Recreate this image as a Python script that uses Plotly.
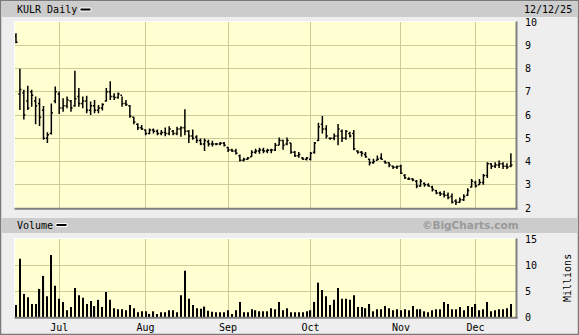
import pandas as pd
import plotly.graph_objects as go

# ---------------- data ----------------
holidays = ["2025-06-19", "2025-07-04", "2025-09-01", "2025-11-27"]
days = pd.bdate_range("2025-06-13", "2025-12-12")
days = [d for d in days if d.strftime("%Y-%m-%d") not in holidays]
dates = [d.strftime("%Y-%m-%d") for d in days]

high = [9.52, 7.99, 7.09, 7.26, 7.09, 6.80, 6.72, 6.39, 5.26, 6.50,
        7.23, 7.01, 6.72, 6.80, 6.65, 7.90, 7.16, 6.80, 6.83, 6.58,
        6.65, 6.43, 6.51, 7.16, 7.45, 6.94, 6.97, 6.80, 6.65, 6.43,
        5.93, 5.64, 5.57, 5.38, 5.42, 5.42, 5.38, 5.35, 5.46, 5.52,
        5.35, 5.49, 5.52, 6.25, 5.35, 5.38, 5.13, 4.99, 4.99, 4.94,
        4.89, 4.80, 4.84, 4.84, 4.62, 4.55, 4.55, 4.30, 4.16, 4.19,
        4.48, 4.55, 4.59, 4.59, 4.55, 4.55, 4.80, 5.03, 4.94, 5.03,
        4.80, 4.45, 4.41, 4.19, 4.19, 4.41, 4.84, 5.67, 5.96, 5.56,
        5.03, 5.20, 5.61, 5.38, 5.35, 5.28, 5.35, 4.48, 4.45, 4.41,
        4.12, 4.12, 4.26, 4.36, 4.04, 3.97, 3.83, 3.83, 3.86, 3.46,
        3.32, 3.29, 3.20, 3.25, 3.10, 3.06, 2.96, 2.77, 2.71, 2.74,
        2.67, 2.62, 2.38, 2.45, 2.59, 2.85, 3.25, 3.17, 3.25, 3.46,
        3.97, 3.93, 3.97, 4.04, 3.97, 3.93, 4.36]
low = [9.09, 6.22, 5.81, 6.22, 6.35, 5.60, 5.53, 4.94, 4.80, 5.16,
       6.51, 6.04, 6.14, 6.29, 6.14, 6.36, 6.36, 6.29, 6.07, 6.00,
       6.07, 6.07, 6.19, 6.58, 6.65, 6.65, 6.70, 6.36, 6.39, 5.88,
       5.60, 5.35, 5.35, 5.13, 5.17, 5.20, 5.13, 5.13, 5.09, 5.13,
       5.13, 5.13, 5.06, 5.13, 4.80, 4.94, 4.80, 4.70, 4.45, 4.65,
       4.65, 4.70, 4.70, 4.65, 4.41, 4.41, 4.30, 4.00, 4.00, 4.07,
       4.20, 4.33, 4.33, 4.36, 4.36, 4.36, 4.45, 4.70, 4.51, 4.70,
       4.33, 4.19, 4.16, 4.07, 4.04, 4.04, 4.33, 4.88, 5.20, 4.99,
       4.94, 4.91, 4.70, 4.84, 4.94, 5.03, 4.48, 4.33, 4.22, 4.16,
       3.83, 3.90, 4.04, 4.07, 3.90, 3.75, 3.68, 3.68, 3.46, 3.25,
       3.20, 3.15, 2.85, 2.91, 2.91, 2.91, 2.71, 2.59, 2.52, 2.45,
       2.38, 2.19, 2.13, 2.23, 2.30, 2.52, 2.88, 2.88, 3.00, 3.00,
       3.29, 3.68, 3.72, 3.72, 3.68, 3.68, 3.75]
open_ = [9.40, 6.90, 6.95, 6.60, 7.00, 6.60, 6.50, 6.20, 5.00, 5.20,
         6.60, 6.90, 6.30, 6.40, 6.60, 6.40, 6.80, 6.50, 6.60, 6.20,
         6.40, 6.20, 6.30, 6.60, 7.00, 6.80, 6.75, 6.85, 6.50, 6.40,
         5.90, 5.60, 5.45, 5.35, 5.20, 5.35, 5.30, 5.20, 5.25, 5.20,
         5.30, 5.20, 5.40, 5.45, 5.30, 5.10, 5.05, 4.90, 4.75, 4.85,
         4.75, 4.75, 4.75, 4.78, 4.60, 4.50, 4.45, 4.25, 4.05, 4.10,
         4.20, 4.40, 4.45, 4.50, 4.45, 4.48, 4.50, 4.70, 4.90, 4.75,
         4.80, 4.40, 4.25, 4.15, 4.10, 4.10, 4.40, 4.90, 5.60, 5.40,
         5.00, 5.00, 5.10, 5.30, 5.00, 5.20, 5.20, 4.45, 4.40, 4.30,
         4.10, 3.95, 4.05, 4.15, 4.00, 3.95, 3.80, 3.75, 3.80, 3.40,
         3.25, 3.25, 3.15, 2.95, 3.05, 3.00, 2.90, 2.75, 2.65, 2.60,
         2.55, 2.50, 2.30, 2.25, 2.35, 2.55, 2.90, 3.10, 3.00, 3.10,
         3.40, 3.90, 3.80, 3.85, 3.90, 3.80, 3.80]
close = [9.13, 7.10, 6.00, 6.30, 6.85, 6.40, 5.90, 5.00, 5.15, 6.10,
         7.00, 6.30, 6.40, 6.65, 6.30, 6.70, 6.50, 6.60, 6.20, 6.40,
         6.20, 6.30, 6.45, 7.00, 6.80, 6.75, 6.90, 6.50, 6.45, 5.95,
         5.70, 5.45, 5.40, 5.20, 5.35, 5.30, 5.20, 5.25, 5.20, 5.40,
         5.20, 5.40, 5.45, 5.30, 5.10, 5.00, 4.90, 4.75, 4.90, 4.75,
         4.75, 4.75, 4.78, 4.70, 4.50, 4.45, 4.35, 4.05, 4.10, 4.15,
         4.40, 4.45, 4.50, 4.45, 4.48, 4.50, 4.70, 4.90, 4.70, 4.90,
         4.40, 4.25, 4.30, 4.10, 4.15, 4.35, 4.80, 5.50, 5.40, 5.10,
         5.00, 5.10, 5.40, 5.00, 5.30, 5.10, 4.55, 4.40, 4.35, 4.20,
         3.95, 4.00, 4.10, 4.10, 3.95, 3.85, 3.75, 3.78, 3.50, 3.30,
         3.25, 3.20, 2.95, 3.15, 3.00, 2.95, 2.80, 2.65, 2.60, 2.55,
         2.45, 2.25, 2.25, 2.35, 2.50, 2.75, 3.15, 2.95, 3.10, 3.40,
         3.90, 3.80, 3.85, 3.90, 3.80, 3.75, 3.85]
volume = [2.3, 11.2, 4.4, 3.8, 2.5, 2.5, 5.4, 7.9, 4.0, 11.9,
          6.0, 3.5, 2.9, 1.3, 1.9, 5.6, 4.2, 3.7, 2.5, 3.1,
          2.1, 3.3, 1.9, 4.8, 3.3, 1.7, 1.5, 1.5, 1.3, 2.3,
          1.7, 0.9, 1.1, 1.1, 0.6, 1.1, 0.6, 0.9, 0.9, 1.3,
          1.3, 0.9, 4.2, 8.9, 3.5, 2.3, 1.7, 1.6, 2.0, 1.2,
          1.0, 0.9, 0.9, 0.9, 1.3, 0.6, 1.3, 2.9, 0.9, 0.9,
          1.5, 1.3, 1.1, 1.1, 1.1, 1.7, 1.5, 2.9, 1.3, 1.7,
          0.9, 0.9, 0.9, 0.9, 1.1, 1.3, 2.9, 6.6, 5.2, 4.0,
          2.3, 3.3, 5.6, 3.5, 3.5, 3.3, 4.2, 1.9, 1.9, 1.7,
          2.5, 1.1, 1.5, 1.5, 2.1, 1.7, 1.3, 1.5, 1.3, 1.5,
          1.3, 2.1, 1.5, 1.5, 1.1, 0.9, 1.3, 1.5, 1.5, 2.9,
          2.5, 1.5, 1.5, 1.9, 1.3, 2.1, 1.9, 2.5, 1.3, 1.5,
          2.9, 1.1, 1.3, 1.5, 1.5, 1.7, 2.5]

month_names = ["Jul", "Aug", "Sep", "Oct", "Nov", "Dec"]
price_ticks = [2, 3, 4, 5, 6, 7, 8, 9, 10]
volume_ticks = [0, 5, 10, 15]
symbol_title = "KULR Daily"
chart_date = "12/12/25"

# month gridline positions: first trading day of each month
month_starts = []
for m in [7, 8, 9, 10, 11, 12]:
    for d in dates:
        if int(d[5:7]) == m:
            month_starts.append(d)
            break

# ---------------- layout helpers (pixel -> paper) ----------------
W, H = 579, 335
L, R, T, B = 15, 63, 22, 18
PW, PH = W - L - R, H - T - B


def px(x):
    return (x - L) / PW


def py(y):
    return (H - B - y) / PH


MONO = "DejaVu Sans Mono"
GRID = "#cccc99"

fig = go.Figure()
fig.add_trace(go.Ohlc(
    x=dates, open=open_, high=high, low=low, close=close,
    xaxis="x", yaxis="y",
    increasing=dict(line=dict(color="black", width=1.5)),
    decreasing=dict(line=dict(color="black", width=1.5)),
    tickwidth=0.4, showlegend=False, hoverinfo="skip"))
fig.add_trace(go.Bar(
    x=dates, y=volume, xaxis="x", yaxis="y2",
    marker=dict(color="black", line=dict(width=0)),
    width=0.3, showlegend=False, hoverinfo="skip"))

shapes = []
# outer frame
shapes.append(dict(type="rect", xref="paper", yref="paper",
                   x0=px(0.5), x1=px(578.5), y0=py(0.5), y1=py(334.5),
                   line=dict(color="#7a7a7a", width=1.5), layer="below"))
# header bars
for (y0, y1) in [(2, 17), (218, 233)]:
    shapes.append(dict(type="rect", xref="paper", yref="paper",
                       x0=px(1.5), x1=px(577.5), y0=py(y0), y1=py(y1),
                       fillcolor="#cccccc", line=dict(width=0), layer="below"))
# panel bevels
for (top, bot) in [(22, 208), (239, 317)]:
    shapes.append(dict(type="line", xref="paper", yref="paper",
                       x0=px(14.5), x1=px(14.5), y0=py(top - 1), y1=py(bot),
                       line=dict(color="#ffffff", width=1)))
    shapes.append(dict(type="line", xref="paper", yref="paper",
                       x0=px(14.5), x1=px(516), y0=py(top - 0.5), y1=py(top - 0.5),
                       line=dict(color="#ffffff", width=1)))
    shapes.append(dict(type="line", xref="paper", yref="paper",
                       x0=px(516.5), x1=px(516.5), y0=py(top - 0.5), y1=py(bot + 1.5),
                       line=dict(color="#808080", width=2)))
    shapes.append(dict(type="line", xref="paper", yref="paper",
                       x0=px(14.5), x1=px(517.5), y0=py(bot + 0.8), y1=py(bot + 0.8),
                       line=dict(color="#808080", width=2)))
# legend swatches
for (x0, x1, yc) in [(80, 91, 9.5), (56, 67, 225)]:
    shapes.append(dict(type="rect", xref="paper", yref="paper",
                       x0=px(x0), x1=px(x1), y0=py(yc - 1.5), y1=py(yc + 1.5),
                       fillcolor="black", line=dict(color="white", width=1)))

font = dict(family=MONO, size=10, color="black")
annotations = [
    dict(text=symbol_title, x=px(15), y=py(9.5), xanchor="left", yanchor="middle"),
    dict(text=chart_date, x=px(574), y=py(9.5), xanchor="right", yanchor="middle"),
    dict(text="Volume", x=px(15), y=py(225), xanchor="left", yanchor="middle"),
    dict(text="<b>©BigCharts.com</b>", x=px(470), y=py(225), xanchor="center",
         yanchor="middle", font=dict(family="DejaVu Sans", size=10.5, color="#999999")),
    dict(text="Millions", x=px(567), y=py(278), xanchor="center", yanchor="middle",
         textangle=-90),
]
for a in annotations:
    a.update(xref="paper", yref="paper", showarrow=False)
    a.setdefault("font", font)

fig.update_layout(
    width=W, height=H,
    margin=dict(l=L, r=R, t=T, b=B, pad=0, autoexpand=False),
    paper_bgcolor="#eeeeee", plot_bgcolor="#ffffd2",
    showlegend=False,
    shapes=shapes, annotations=annotations,
    xaxis=dict(type="category", range=[-0.25, len(dates) + 0.3],
               tickvals=month_starts, ticktext=month_names,
               showgrid=True, gridcolor=GRID, gridwidth=1,
               anchor="y2", rangeslider=dict(visible=False),
               ticks="", tickfont=font, ticklabelstandoff=3, automargin=False,
               showline=False, zeroline=False, fixedrange=True),
    yaxis=dict(domain=[py(208), 1], range=[2, 10], side="right",
               tickvals=price_ticks, showgrid=True, gridcolor=GRID, gridwidth=1,
               ticks="", tickfont=font, ticklabelstandoff=8, automargin=False,
               showline=False, zeroline=False),
    yaxis2=dict(domain=[0, py(239)], range=[0, 15], side="right",
                tickvals=volume_ticks, showgrid=True, gridcolor=GRID, gridwidth=1,
                ticks="", tickfont=font, ticklabelstandoff=8, automargin=False,
                showline=False, zeroline=False),
)

fig.write_html("out.html")
